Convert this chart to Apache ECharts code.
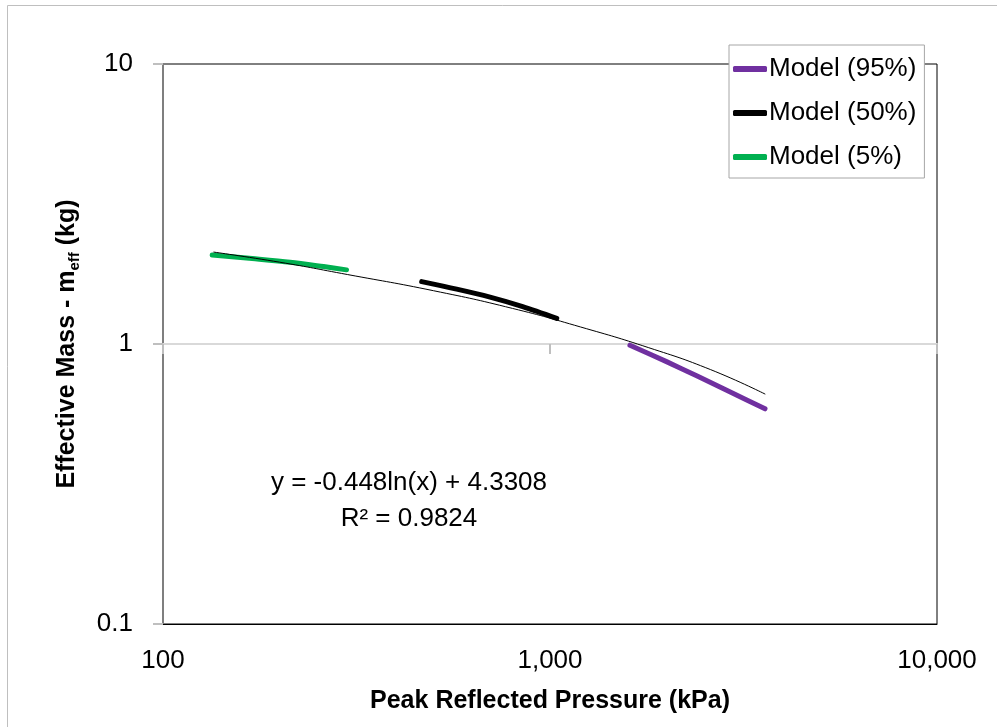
<!DOCTYPE html>
<html lang="en">
  <head>
    <meta charset="UTF-8" />
    <title>Effective Mass vs Peak Reflected Pressure</title>
    <script src="https://cdn.jsdelivr.net/npm/echarts@6/dist/echarts.min.js"></script>
    <style>
      html, body { margin: 0; padding: 0; background: #fff; }
    </style>
  </head>
  <body>
    <div id="main" style="width: 997px; height: 727px"></div>
    <script type="text/javascript">
      // values
      var xTicks = [100, 1000, 10000];
      var yTicks = [0.1, 1, 10];

      var p95 = [1609, 2000, 2393, 2950, 3594];
      var m95 = [0.99, 0.865, 0.77, 0.67, 0.587];

      var p50 = [466, 574, 700, 850, 1041];
      var m50 = [1.67, 1.57, 1.47, 1.36, 1.235];

      var p5 = [134, 170, 213, 260, 298];
      var m5 = [2.08, 2.02, 1.96, 1.89, 1.84];

      var pTrend = [135, 200, 300, 500, 800, 1200, 1800, 2600, 3600];
      var mTrend = [2.13, 1.96, 1.77, 1.55, 1.34, 1.15, 0.97, 0.81, 0.662];

      var eqText = "y = -0.448ln(x) + 4.3308\nR² = 0.9824";

      function pairs(xs, ys) {
        return xs.map(function (x, i) { return [x, ys[i]]; });
      }

      var FONT = "Liberation Sans";
      var chart = echarts.init(document.getElementById("main"));

      function modelSeries(name, xs, ys, color) {
        return {
          name: name,
          type: "line",
          data: pairs(xs, ys),
          smooth: 0.3,
          showSymbol: false,
          lineStyle: { color: color, width: 5, cap: "round" },
          itemStyle: { color: color },
          z: 3
        };
      }

      var option = {
        animation: false,
        backgroundColor: "#fff",
        grid: {
          left: 163, top: 64, right: 60, bottom: 103,
          show: true, borderColor: "#000", borderWidth: 1
        },
        legend: {
          left: 729, top: 45,
          orient: "vertical",
          icon: "roundRect",
          itemWidth: 34, itemHeight: 6, itemGap: 14,
          padding: [9, 8, 6, 4],
          backgroundColor: "#fff",
          borderColor: "#a6a6a6", borderWidth: 1,
          textStyle: { fontFamily: FONT, fontSize: 26, color: "#000", lineHeight: 30, padding: [0, 0, 0, -3] },
          data: ["Model (95%)", "Model (50%)", "Model (5%)"],
          z: 10
        },
        xAxis: [
          {
            type: "log", logBase: 10, min: xTicks[0], max: xTicks[xTicks.length - 1],
            position: "bottom",
            name: "Peak Reflected Pressure (kPa)",
            nameLocation: "middle", nameGap: 65,
            nameTextStyle: { fontFamily: FONT, fontSize: 25, fontWeight: "bold", color: "#000" },
            axisLine: { show: true, lineStyle: { color: "#000", width: 1 } },
            axisTick: { show: false },
            splitLine: { show: false },
            axisLabel: {
              fontFamily: FONT, fontSize: 26, color: "#000", margin: 24,
              formatter: function (v) { return Number(v).toLocaleString("en-US"); }
            }
          },
          {
            // axis crossing at y = 1 (gray line with downward ticks)
            type: "log", logBase: 10, min: xTicks[0], max: xTicks[xTicks.length - 1],
            position: "bottom", offset: -280,
            axisLine: { show: true, lineStyle: { color: "#d9d9d9", width: 2 } },
            axisTick: { show: true, length: 10, lineStyle: { color: "#bfbfbf", width: 2 } },
            axisLabel: { show: false },
            splitLine: { show: false }
          }
        ],
        yAxis: {
          type: "log", logBase: 10, min: yTicks[0], max: yTicks[yTicks.length - 1],
          name: "{t|Effective Mass - m}{s|eff}{t| (kg)}",
          nameLocation: "middle", nameGap: 81, nameRotate: 90,
          nameTextStyle: {
            rich: {
              t: { fontFamily: FONT, fontSize: 25, fontWeight: "bold", color: "#000", lineHeight: 30 },
              s: { fontFamily: FONT, fontSize: 15, fontWeight: "bold", color: "#000", lineHeight: 30, verticalAlign: "bottom", padding: [8, 0, 0, 0] }
            }
          },
          axisLine: { show: true, lineStyle: { color: "#7f7f7f", width: 2 } },
          axisTick: { show: true, length: 10, lineStyle: { color: "#bfbfbf", width: 2 } },
          splitLine: { show: false },
          axisLabel: {
            fontFamily: FONT, fontSize: 26, color: "#000", margin: 30,
            formatter: function (v) { return String(+Number(v).toPrecision(3)); }
          }
        },
        graphic: [
          {
            type: "rect", silent: true, z: -10,
            shape: { x: 7.5, y: 5.5, width: 1000, height: 730 },
            style: { fill: "none", stroke: "#bfbfbf", lineWidth: 1 }
          },
          {
            type: "text", silent: true, x: 409, y: 501,
            style: {
              text: eqText, fontFamily: FONT, fontSize: 26, fill: "#000",
              align: "center", verticalAlign: "middle", lineHeight: 36
            }
          }
        ],
        series: [
          modelSeries("Model (95%)", p95, m95, "#7030a0"),
          modelSeries("Model (50%)", p50, m50, "#000000"),
          modelSeries("Model (5%)", p5, m5, "#00b050"),
          {
            name: "Trend",
            type: "line",
            data: pairs(pTrend, mTrend),
            smooth: true,
            showSymbol: false,
            lineStyle: { color: "#000", width: 1 },
            z: 4
          }
        ]
      };

      chart.setOption(option);
    </script>
  </body>
</html>
